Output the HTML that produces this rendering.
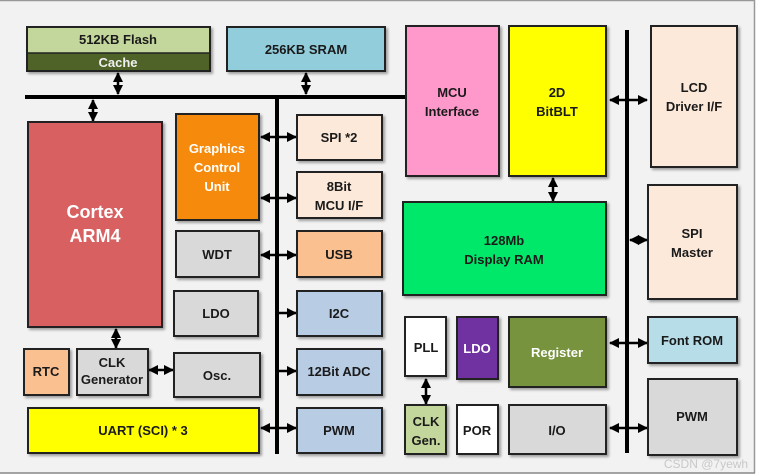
<!DOCTYPE html>
<html><head><meta charset="utf-8"><style>
html,body{margin:0;padding:0;background:#fff;}
svg{display:block;font-family:"Liberation Sans",sans-serif;font-weight:bold;}
</style></head><body>
<svg width="759" height="476" viewBox="0 0 759 476" xmlns="http://www.w3.org/2000/svg">
<defs>
<marker id="a" viewBox="0 0 10 10" refX="9" refY="5" markerWidth="4" markerHeight="4" orient="auto-start-reverse"><path d="M0,0 L10,5 L0,10 z" fill="#000"/></marker>
<filter id="s" x="-10%" y="-10%" width="130%" height="130%"><feDropShadow dx="2" dy="2" stdDeviation="1.2" flood-color="#000" flood-opacity="0.35"/></filter>
</defs>
<rect x="0" y="0" width="755" height="473" fill="#f2f2f2"/>
<line x1="0" y1="0.5" x2="755" y2="0.5" stroke="#999" stroke-width="1.5"/>
<line x1="754.5" y1="0" x2="754.5" y2="473" stroke="#999" stroke-width="1.5"/>
<line x1="0" y1="473" x2="755" y2="473" stroke="#888" stroke-width="1.5"/>

<g stroke="#000" stroke-width="4">
<line x1="25" y1="97" x2="406" y2="97"/>
<line x1="277" y1="97" x2="277" y2="454"/>
<line x1="627" y1="30" x2="627" y2="453"/>
</g>
<g stroke="#000" stroke-width="2.5" marker-start="url(#a)" marker-end="url(#a)">
<line x1="118" y1="73" x2="118" y2="94"/>
<line x1="306" y1="73" x2="306" y2="94"/>
<line x1="93" y1="100" x2="93" y2="121"/>
<line x1="261" y1="137" x2="296" y2="137"/>
<line x1="261" y1="198" x2="296" y2="198"/>
<line x1="261" y1="255" x2="296" y2="255"/>
<line x1="261" y1="428" x2="296" y2="428"/>
<line x1="116" y1="329" x2="116" y2="348"/>
<line x1="149" y1="370" x2="173" y2="370"/>
<line x1="553" y1="178" x2="553" y2="201"/>
<line x1="610" y1="100" x2="647" y2="100"/>
<line x1="630" y1="240" x2="647" y2="240"/>
<line x1="610" y1="343" x2="647" y2="343"/>
<line x1="610" y1="428" x2="647" y2="428"/>
<line x1="426" y1="379" x2="426" y2="404"/>
</g>
<g stroke="#000" stroke-width="2.5" marker-end="url(#a)">
<line x1="277" y1="313" x2="296" y2="313"/>
<line x1="277" y1="371" x2="296" y2="371"/>
</g>

<g stroke="#222" stroke-width="2" filter="url(#s)">
<rect x="27" y="27" width="183" height="44" fill="#c3d69b"/>
<rect x="227" y="27" width="158" height="44" fill="#92cddc"/>
<rect x="28" y="122" width="134" height="205" fill="#d96060"/>
<rect x="176" y="114" width="83" height="106" fill="#f58a0a"/>
<rect x="297" y="115" width="85" height="45" fill="#fde9d9"/>
<rect x="297" y="172" width="85" height="46" fill="#fde9d9"/>
<rect x="176" y="231" width="83" height="46" fill="#d9d9d9"/>
<rect x="297" y="231" width="85" height="46" fill="#fac090"/>
<rect x="174" y="291" width="84" height="45" fill="#d9d9d9"/>
<rect x="297" y="291" width="85" height="45" fill="#b8cce4"/>
<rect x="24" y="349" width="45" height="46" fill="#fac090"/>
<rect x="77" y="349" width="71" height="46" fill="#d9d9d9"/>
<rect x="174" y="353" width="86" height="44" fill="#d9d9d9"/>
<rect x="297" y="349" width="85" height="46" fill="#b8cce4"/>
<rect x="28" y="408" width="231" height="45" fill="#ffff00"/>
<rect x="297" y="408" width="85" height="45" fill="#b8cce4"/>
<rect x="406" y="26" width="93" height="150" fill="#ff99cc"/>
<rect x="509" y="26" width="97" height="150" fill="#ffff00"/>
<rect x="651" y="26" width="86" height="141" fill="#fde9d9"/>
<rect x="403" y="202" width="203" height="93" fill="#00e86b"/>
<rect x="648" y="185" width="89" height="114" fill="#fde9d9"/>
<rect x="405" y="317" width="41" height="59" fill="#ffffff"/>
<rect x="457" y="317" width="41" height="62" fill="#7030a0"/>
<rect x="509" y="317" width="97" height="70" fill="#77933c"/>
<rect x="648" y="317" width="89" height="46" fill="#b7dde8"/>
<rect x="648" y="379" width="89" height="76" fill="#d9d9d9"/>
<rect x="405" y="405" width="41" height="49" fill="#c3d69b"/>
<rect x="457" y="405" width="41" height="49" fill="#ffffff"/>
<rect x="509" y="405" width="97" height="49" fill="#d9d9d9"/>
</g>
<rect x="28" y="53" width="181" height="17" fill="#4f6228"/>
<line x1="27" y1="53" x2="210" y2="53" stroke="#222" stroke-width="1.5"/>

<g font-size="13" fill="#1a1a1a" text-anchor="middle">
<text x="118" y="44">512KB Flash</text>
<text x="118" y="67" fill="#f0f0f0">Cache</text>
<text x="306" y="54">256KB SRAM</text>
<text x="95" y="218" font-size="18" fill="#fff">Cortex</text>
<text x="95" y="242" font-size="18" fill="#fff">ARM4</text>
<text x="217" y="153" fill="#fff">Graphics</text>
<text x="217" y="172" fill="#fff">Control</text>
<text x="217" y="191" fill="#fff">Unit</text>
<text x="339" y="142">SPI *2</text>
<text x="339" y="191">8Bit</text>
<text x="339" y="210">MCU I/F</text>
<text x="217" y="259">WDT</text>
<text x="339" y="259">USB</text>
<text x="216" y="318">LDO</text>
<text x="339" y="318">I2C</text>
<text x="46" y="376">RTC</text>
<text x="112" y="367">CLK</text>
<text x="112" y="384">Generator</text>
<text x="217" y="380">Osc.</text>
<text x="339" y="376">12Bit ADC</text>
<text x="143" y="435">UART (SCI) * 3</text>
<text x="339" y="435">PWM</text>
<text x="452" y="97">MCU</text>
<text x="452" y="116">Interface</text>
<text x="557" y="97">2D</text>
<text x="557" y="116">BitBLT</text>
<text x="694" y="92">LCD</text>
<text x="694" y="111">Driver I/F</text>
<text x="504" y="245">128Mb</text>
<text x="504" y="264">Display RAM</text>
<text x="692" y="238">SPI</text>
<text x="692" y="257">Master</text>
<text x="426" y="352">PLL</text>
<text x="477" y="353" fill="#fff">LDO</text>
<text x="557" y="357" fill="#fff">Register</text>
<text x="692" y="345">Font ROM</text>
<text x="692" y="421">PWM</text>
<text x="426" y="426">CLK</text>
<text x="426" y="445">Gen.</text>
<text x="477" y="435">POR</text>
<text x="557" y="435">I/O</text>
</g>
<text x="706" y="468" font-size="12" font-weight="normal" fill="#c8c8c8" text-anchor="middle">CSDN @7yewh</text>
</svg>
</body></html>
